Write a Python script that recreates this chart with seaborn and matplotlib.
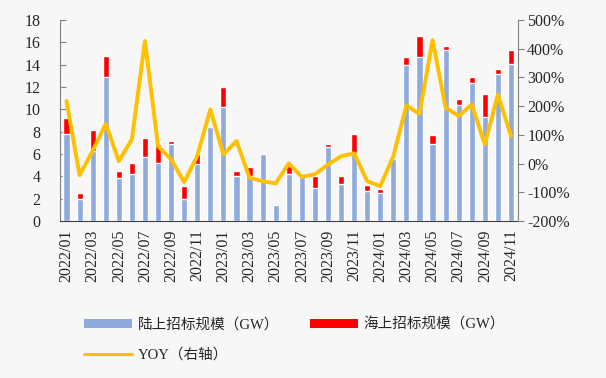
import numpy as np
import pandas as pd
import matplotlib
matplotlib.use("Agg")
import matplotlib.pyplot as plt
import matplotlib.ticker as mticker
from matplotlib.patches import Patch
from matplotlib.lines import Line2D
import seaborn as sns

months = ["2022/01", "2022/02", "2022/03", "2022/04", "2022/05", "2022/06",
          "2022/07", "2022/08", "2022/09", "2022/10", "2022/11", "2022/12",
          "2023/01", "2023/02", "2023/03", "2023/04", "2023/05", "2023/06",
          "2023/07", "2023/08", "2023/09", "2023/10", "2023/11", "2023/12",
          "2024/01", "2024/02", "2024/03", "2024/04", "2024/05", "2024/06",
          "2024/07", "2024/08", "2024/09", "2024/10", "2024/11"]
onshore = [7.8, 2.0, 6.3, 12.9, 3.9, 4.2, 5.7, 5.2, 6.9, 2.0, 5.1, 8.4,
           10.2, 4.0, 4.0, 6.0, 1.4, 4.2, 4.0, 3.0, 6.6, 3.3, 6.1, 2.7,
           2.5, 5.6, 14.0, 14.7, 6.9, 15.3, 10.4, 12.4, 9.3, 13.2, 14.1]
offshore = [1.4, 0.55, 1.9, 1.9, 0.6, 1.0, 1.7, 1.7, 0.25, 1.1, 0.9, 0.0,
            1.8, 0.45, 0.85, 0.0, 0.0, 0.7, 0.0, 1.0, 0.33, 0.7, 1.7, 0.55,
            0.4, 0.0, 0.7, 1.9, 0.8, 0.4, 0.55, 0.5, 2.1, 0.4, 1.2]
yoy = [218, -40, 45, 139, 9, 85, 427, 61, 15, -64, 27, 189,
       32, 79, -49, -61, -69, 1, -46, -37, -3, 26, 36, -61,
       -78, 26, 203, 173, 430, 195, 166, 206, 67, 241, 96]

df = pd.DataFrame({"month": months, "onshore": onshore, "offshore": offshore, "yoy": yoy})
df["total"] = df["onshore"] + df["offshore"]
df["pos"] = np.arange(len(df))

blue = "#8FAADC"
red = "#FF0000"
gold = "#FFC000"
bg = "#f7f7f7"
txt = "#262626"

sns.set_style("white")
plt.rcParams["font.family"] = ["Liberation Serif", "Noto Sans CJK SC"]
plt.rcParams["axes.unicode_minus"] = False

fig = plt.figure(figsize=(6.06, 3.78), dpi=100, facecolor=bg)
ax = fig.add_axes([0.099, 0.415, 0.755, 0.532])
ax.set_facecolor(bg)

# stacked: total in red underneath, onshore in blue on top of it
sns.barplot(data=df, x="pos", y="total", color=red, width=0.47, saturation=1, ax=ax)
sns.barplot(data=df, x="pos", y="onshore", color=blue, width=0.47, saturation=1, ax=ax)

ax.set_ylim(0, 18)
ax.set_xlim(-0.5, len(df) - 0.5)
ax.set_yticks(range(0, 19, 2))
ax.set_xticks(df["pos"][::2])
ax.set_xticklabels(df["month"][::2], rotation=90)
ax.set_xticks(np.arange(1.5, len(df) - 1, 2), minor=True)
ax.tick_params(axis="x", which="major", length=0, pad=6, labelsize=11.5, colors=txt)
ax.tick_params(axis="x", which="minor", length=4, direction="out", color="#404040", width=0.8)
ax.tick_params(axis="y", direction="in", length=4, color="#808080", labelsize=11.5, colors=txt, pad=14)
ax.set_xlabel("")
ax.set_ylabel("")
for s in ["top", "right"]:
    ax.spines[s].set_visible(False)
ax.spines["left"].set_color("#808080")
ax.spines["bottom"].set_color("#404040")

ax2 = ax.twinx()
sns.lineplot(data=df, x="pos", y="yoy", color=gold, linewidth=2.8, ax=ax2)
ax2.set_ylim(-200, 500)
ax2.set_yticks(range(-200, 501, 100))
ax2.yaxis.set_major_formatter(mticker.FuncFormatter(lambda v, p: f"{v:.0f}%"))
ax2.tick_params(axis="y", direction="out", length=4, color="#808080", labelsize=11.5, colors=txt, pad=3)
ax2.set_ylabel("")
for s in ["top", "left", "bottom"]:
    ax2.spines[s].set_visible(False)
ax2.spines["right"].set_color("#808080")

handles = [Patch(facecolor=blue, edgecolor="none"),
           Line2D([0], [0], color=gold, linewidth=2.2),
           Patch(facecolor=red, edgecolor="none")]
labels = ["陆上招标规模（GW）", "YOY（右轴）", "海上招标规模（GW）"]
fig.legend(handles, labels, ncol=2, loc="upper left", bbox_to_anchor=(0.138, 0.16),
           frameon=False, fontsize=10.5, handlelength=3.3, handleheight=0.6,
           handletextpad=0.4, columnspacing=2.1, labelspacing=1.1,
           borderpad=0, borderaxespad=0, labelcolor=txt)

fig.savefig("out.png", dpi=100, facecolor=bg)
